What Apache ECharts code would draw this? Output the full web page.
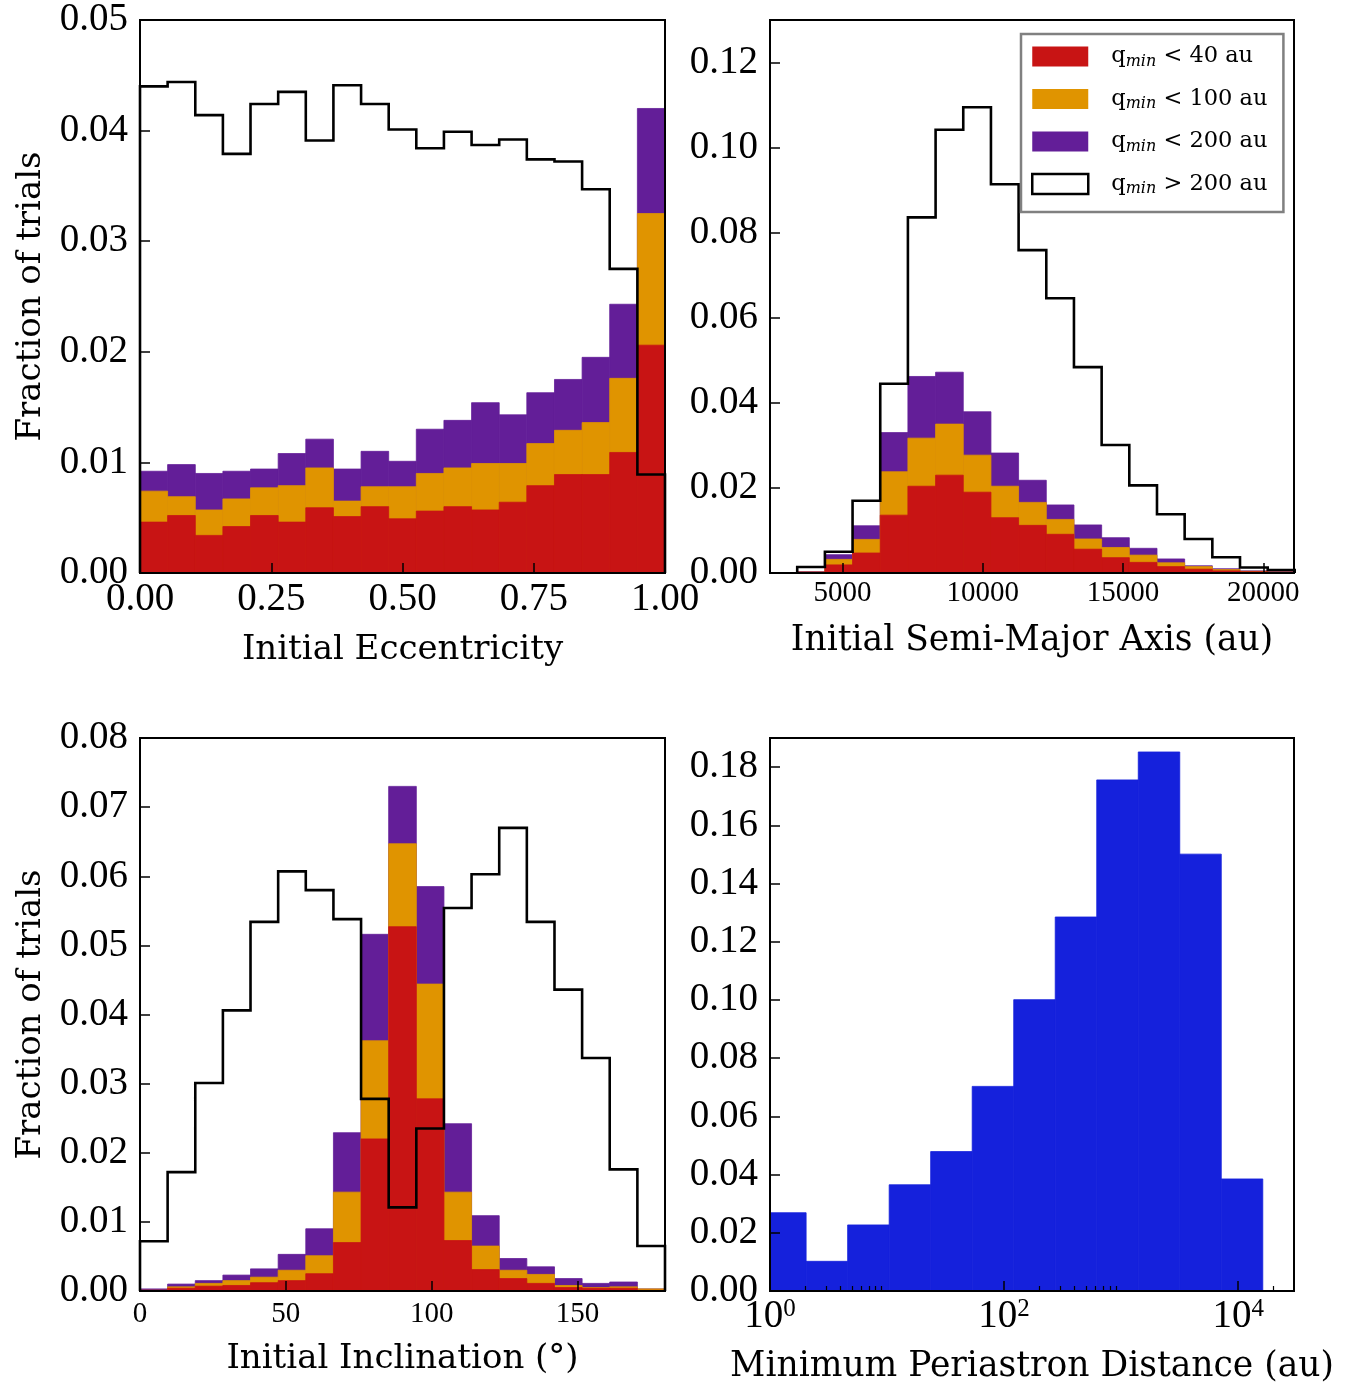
<!DOCTYPE html>
<html>
<head>
<meta charset="utf-8">
<script src="https://cdn.jsdelivr.net/npm/echarts@6/dist/echarts.min.js"></script>
<style>
  html, body { margin: 0; padding: 0; background: #fff; }
  #chart { width: 1353px; height: 1385px; }
</style>
</head>
<body>
<div id="chart"></div>
<script>
// ---- Initial eccentricity histogram (19 bins on [0, 1]) ----
const eccEdges = [0, 0.0526, 0.1053, 0.1579, 0.2105, 0.2632, 0.3158, 0.3684, 0.4211, 0.4737,
                  0.5263, 0.5789, 0.6316, 0.6842, 0.7368, 0.7895, 0.8421, 0.8947, 0.9474, 1.0];
const eccLt40  = [0.0046, 0.0052, 0.0034, 0.0042, 0.0052, 0.0046, 0.0059, 0.0051, 0.0060, 0.0049,
                  0.0056, 0.0060, 0.0057, 0.0064, 0.0079, 0.0089, 0.0089, 0.0109, 0.0206];
const eccLt100 = [0.0074, 0.0069, 0.0057, 0.0067, 0.0077, 0.0079, 0.0095, 0.0065, 0.0078, 0.0078,
                  0.0090, 0.0095, 0.0099, 0.0099, 0.0117, 0.0129, 0.0136, 0.0176, 0.0325];
const eccLt200 = [0.0092, 0.0098, 0.0090, 0.0092, 0.0094, 0.0108, 0.0121, 0.0094, 0.0110, 0.0101,
                  0.0130, 0.0138, 0.0154, 0.0143, 0.0163, 0.0175, 0.0195, 0.0243, 0.0420];
const eccGt200 = [0.0440, 0.0444, 0.0414, 0.0379, 0.0424, 0.0435, 0.0391, 0.0441, 0.0424, 0.0401,
                  0.0384, 0.0399, 0.0387, 0.0392, 0.0374, 0.0372, 0.0347, 0.0275, 0.0089];

// ---- Initial semi-major axis histogram (au) ----
const smaEdges = [3385, 4372, 5358, 6345, 7331, 8318, 9304, 10291, 11277, 12264,
                  13250, 14237, 15223, 16210, 17196, 18183, 19169, 20156, 21142];
const smaLt40  = [0.0002, 0.0019, 0.0047, 0.0136, 0.0204, 0.0230, 0.0190, 0.0130, 0.0112, 0.0091,
                  0.0056, 0.0036, 0.0025, 0.0015, 0.0009, 0.0005, 0.0003, 0.0002];
const smaLt100 = [0.0002, 0.0032, 0.0079, 0.0238, 0.0317, 0.0350, 0.0277, 0.0204, 0.0166, 0.0126,
                  0.0080, 0.0060, 0.0042, 0.0024, 0.0015, 0.0008, 0.0004, 0.0002];
const smaLt200 = [0.0003, 0.0043, 0.0111, 0.0330, 0.0462, 0.0472, 0.0379, 0.0282, 0.0218, 0.0160,
                  0.0113, 0.0083, 0.0058, 0.0033, 0.0017, 0.0010, 0.0005, 0.0003];
const smaGt200 = [0.0014, 0.0050, 0.0170, 0.0445, 0.0836, 0.1042, 0.1095, 0.0914, 0.0759, 0.0646,
                  0.0484, 0.0301, 0.0206, 0.0138, 0.0080, 0.0037, 0.0013, 0.0007];
const smaTicks = [5000, 10000, 15000, 20000];

// ---- Initial inclination histogram (degrees, 19 bins on [0, 180]) ----
const incEdges = [0, 9.47, 18.95, 28.42, 37.89, 47.37, 56.84, 66.32, 75.79, 85.26,
                  94.74, 104.21, 113.68, 123.16, 132.63, 142.11, 151.58, 161.05, 170.53, 180];
const incLt40  = [0.0001, 0.0004, 0.0007, 0.0008, 0.0012, 0.0015, 0.0025, 0.0070, 0.0220, 0.0527,
                  0.0278, 0.0073, 0.0031, 0.0018, 0.0011, 0.0005, 0.0004, 0.0004, 0.0001];
const incLt100 = [0.0001, 0.0006, 0.0011, 0.0015, 0.0020, 0.0030, 0.0051, 0.0143, 0.0362, 0.0647,
                  0.0444, 0.0143, 0.0065, 0.0030, 0.0024, 0.0008, 0.0005, 0.0006, 0.0003];
const incLt200 = [0.0003, 0.0010, 0.0015, 0.0023, 0.0032, 0.0053, 0.0090, 0.0229, 0.0516, 0.0730,
                  0.0585, 0.0242, 0.0109, 0.0047, 0.0035, 0.0018, 0.0011, 0.0013, 0.0003];
const incGt200 = [0.0072, 0.0172, 0.0301, 0.0406, 0.0534, 0.0607, 0.0580, 0.0538, 0.0278, 0.0121,
                  0.0235, 0.0554, 0.0603, 0.0670, 0.0534, 0.0436, 0.0337, 0.0176, 0.0065];
const incTicks = [0, 50, 100, 150];

// ---- Minimum periastron distance histogram (au, log-spaced bins) ----
const qEdges = [0.90, 2.035, 4.607, 10.43, 23.59, 53.4, 120.9, 273.5, 619, 1401, 3170, 7174, 16235];
const qFrac  = [0.0269, 0.0102, 0.0227, 0.0365, 0.0479, 0.0703, 0.1001, 0.1285, 0.1756, 0.1852, 0.1501, 0.0385];
const qMajorTicks = [1, 100, 10000];
const qMinorTicks = [2, 3, 4, 5, 6, 7, 8, 9, 200, 300, 400, 500, 600, 700, 800, 900, 20000];

// ---- Styling ----
const RED = '#c81414', ORANGE = '#e09400', PURPLE = '#631e98', BLUE = '#1521dc';
const NUM_FONT = 'Liberation Serif';
const TXT_FONT = 'DejaVu Serif';
const NAME_LT40 = 'q_min < 40 au', NAME_LT100 = 'q_min < 100 au',
      NAME_LT200 = 'q_min < 200 au', NAME_GT200 = 'q_min > 200 au';

const frameLine = { show: true, onZero: false, lineStyle: { color: '#000', width: 2, cap: 'square' } };
const majorTick = { show: true, inside: true, length: 10, lineStyle: { color: '#000', width: 1.5 } };

const grids = [
  { left: 140, top: 20,  width: 525, height: 553 },
  { left: 770, top: 20,  width: 524, height: 553 },
  { left: 140, top: 738, width: 525, height: 553 },
  { left: 770, top: 738, width: 524, height: 553 }
].map(g => Object.assign({ show: false, containLabel: false, outerBoundsMode: 'none' }, g));

function fixed2(v) { return v.toFixed(2); }
function plain(v) { return String(v); }

function titleStyle(size) {
  return { fontFamily: TXT_FONT, fontSize: size || 34, color: '#000' };
}

// bottom x axis with labels and axis title
function xBottom(gi, cfg) {
  return Object.assign({
    gridIndex: gi, type: 'value', position: 'bottom', z: 10,
    axisLine: frameLine, axisTick: majorTick, splitLine: { show: false },
    nameLocation: 'middle', nameMoveOverlap: false, nameTextStyle: titleStyle()
  }, cfg);
}
// top edge of the frame
function xTop(gi, type, min, max) {
  return { gridIndex: gi, type, min, max, position: 'top', z: 10, axisLine: frameLine,
           axisTick: { show: false }, axisLabel: { show: false }, splitLine: { show: false } };
}
function yLeft(gi, max, interval, showMax, withName) {
  const ax = {
    gridIndex: gi, type: 'value', position: 'left', min: 0, max, interval, z: 10,
    axisLine: frameLine, axisTick: majorTick, splitLine: { show: false },
    axisLabel: { show: true, margin: 12, formatter: fixed2, showMinLabel: true, showMaxLabel: showMax,
                 fontFamily: NUM_FONT, fontSize: 39, color: '#000' }
  };
  if (withName) {
    Object.assign(ax, { name: 'Fraction of trials', nameLocation: 'middle', nameGap: 92,
                        nameRotate: 90, nameMoveOverlap: false, nameTextStyle: titleStyle() });
  }
  return ax;
}
// right edge of the frame
function yRight(gi, max) {
  return { gridIndex: gi, type: 'value', position: 'right', min: 0, max, z: 10, axisLine: frameLine,
           axisTick: { show: false }, axisLabel: { show: false }, splitLine: { show: false } };
}

const xAxes = [
  xBottom(0, { min: 0, max: 1, interval: 0.25, name: 'Initial Eccentricity', nameGap: 60,
    axisLabel: { margin: 7, formatter: fixed2, showMinLabel: true, showMaxLabel: true,
                 fontFamily: NUM_FONT, fontSize: 39, color: '#000' } }),
  xTop(0, 'value', 0, 1),
  xBottom(1, { min: 2415, max: 21094, name: 'Initial Semi-Major Axis (au)', nameGap: 51,
    nameTextStyle: titleStyle(34.5),
    axisTick: Object.assign({}, majorTick, { customValues: smaTicks }),
    axisLabel: { customValues: smaTicks, margin: 6, formatter: plain,
                 fontFamily: NUM_FONT, fontSize: 29, color: '#000' } }),
  xTop(1, 'value', 2415, 21094),
  xBottom(2, { min: 0, max: 180, name: 'Initial Inclination (°)', nameGap: 51,
    axisTick: Object.assign({}, majorTick, { customValues: incTicks }),
    axisLabel: { customValues: incTicks, margin: 9, formatter: plain,
                 fontFamily: NUM_FONT, fontSize: 29, color: '#000' } }),
  xTop(2, 'value', 0, 180),
  xBottom(3, { type: 'log', logBase: 10, min: 1, max: 30000, name: 'Minimum Periastron Distance (au)', nameGap: 59,
    nameTextStyle: titleStyle(34.5),
    axisTick: Object.assign({}, majorTick, { customValues: qMajorTicks }),
    axisLabel: { customValues: qMajorTicks, margin: 6, color: '#000',
      formatter: v => '{b|10}{s|' + Math.round(Math.log10(v)) + '}',
      rich: {
        b: { fontFamily: NUM_FONT, fontSize: 39, color: '#000' },
        s: { fontFamily: NUM_FONT, fontSize: 25, color: '#000', verticalAlign: 'top' }
      } } }),
  xTop(3, 'log', 1, 30000),
  // minor ticks of the log axis
  { gridIndex: 3, type: 'log', logBase: 10, min: 1, max: 30000, position: 'bottom', z: 10,
    axisLine: { show: false }, axisLabel: { show: false }, splitLine: { show: false },
    axisTick: { show: true, inside: true, length: 5, customValues: qMinorTicks,
                lineStyle: { color: '#000', width: 1.2 } } }
];

const yAxes = [
  yLeft(0, 0.05, 0.01, true, true), yRight(0, 0.05),
  yLeft(1, 0.13, 0.02, false, false), yRight(1, 0.13),
  yLeft(2, 0.08, 0.01, true, true), yRight(2, 0.08),
  yLeft(3, 0.19, 0.02, false, false), yRight(3, 0.19)
];

// filled histogram drawn as rectangles between bin edges
function histSeries(name, color, axisIdx, edges, vals) {
  return {
    type: 'custom', name, xAxisIndex: axisIdx, yAxisIndex: axisIdx, clip: true, z: 2, silent: true,
    encode: { x: [0, 1], y: 2 },
    itemStyle: { color },
    data: vals.map((v, i) => [edges[i], edges[i + 1], v]),
    renderItem(params, api) {
      const a = api.coord([api.value(0), api.value(2)]);
      const b = api.coord([api.value(1), 0]);
      return { type: 'rect', shape: { x: a[0], y: a[1], width: b[0] - a[0], height: b[1] - a[1] },
               style: { fill: color, stroke: color, lineWidth: 0.8 } };
    }
  };
}

// unfilled step outline of a histogram
function stepSeries(name, axisIdx, edges, vals) {
  const pts = [[edges[0], 0]];
  vals.forEach((v, i) => { pts.push([edges[i], v], [edges[i + 1], v]); });
  pts.push([edges[edges.length - 1], 0]);
  return {
    type: 'line', name, xAxisIndex: axisIdx, yAxisIndex: axisIdx, data: pts, clip: true, z: 3,
    symbol: 'none', showSymbol: false, silent: true,
    itemStyle: { color: '#fff', borderColor: '#000', borderWidth: 2.5 },
    lineStyle: { color: '#000', width: 2.6, join: 'miter' }
  };
}

function panel(axisIdx, edges, lt200, lt100, lt40, gt200) {
  return [
    histSeries(NAME_LT200, PURPLE, axisIdx, edges, lt200),
    histSeries(NAME_LT100, ORANGE, axisIdx, edges, lt100),
    histSeries(NAME_LT40, RED, axisIdx, edges, lt40),
    stepSeries(NAME_GT200, axisIdx, edges, gt200)
  ];
}

const series = [].concat(
  panel(0, eccEdges, eccLt200, eccLt100, eccLt40, eccGt200),
  panel(2, smaEdges, smaLt200, smaLt100, smaLt40, smaGt200),
  panel(4, incEdges, incLt200, incLt100, incLt40, incGt200),
  [histSeries('q_min', BLUE, 6, qEdges, qFrac)]
);

const legendText = {};
legendText[NAME_LT40] = ' < 40 au';
legendText[NAME_LT100] = ' < 100 au';
legendText[NAME_LT200] = ' < 200 au';
legendText[NAME_GT200] = ' > 200 au';

const option = {
  animation: false,
  backgroundColor: '#fff',
  textStyle: { fontFamily: TXT_FONT, color: '#000' },
  grid: grids,
  xAxis: xAxes,
  yAxis: yAxes,
  legend: {
    orient: 'vertical', left: 1021, top: 34, padding: [11, 16, 15, 10],
    itemWidth: 56, itemHeight: 20, itemGap: 18,
    backgroundColor: '#fff', borderColor: '#808080', borderWidth: 2.5, borderRadius: 0,
    selectedMode: false,
    data: [
      { name: NAME_LT40, icon: 'rect', itemStyle: { color: RED, borderWidth: 0 } },
      { name: NAME_LT100, icon: 'rect', itemStyle: { color: ORANGE, borderWidth: 0 } },
      { name: NAME_LT200, icon: 'rect', itemStyle: { color: PURPLE, borderWidth: 0 } },
      { name: NAME_GT200, icon: 'rect', itemStyle: { color: '#fff', borderColor: '#000', borderWidth: 2.5 } }
    ],
    formatter: name => '{q|q}{m|min}{t|' + legendText[name] + '}',
    textStyle: {
      rich: {
        q: { fontFamily: TXT_FONT, fontSize: 22.5, color: '#000', padding: [0, 0, 0, 18] },
        m: { fontFamily: TXT_FONT, fontSize: 16, fontStyle: 'italic', color: '#000', padding: [10, 0, 0, 0] },
        t: { fontFamily: TXT_FONT, fontSize: 22.5, color: '#000' }
      }
    }
  },
  series
};

const chart = echarts.init(document.getElementById('chart'), null, { renderer: 'canvas' });
chart.setOption(option);
</script>
</body>
</html>
